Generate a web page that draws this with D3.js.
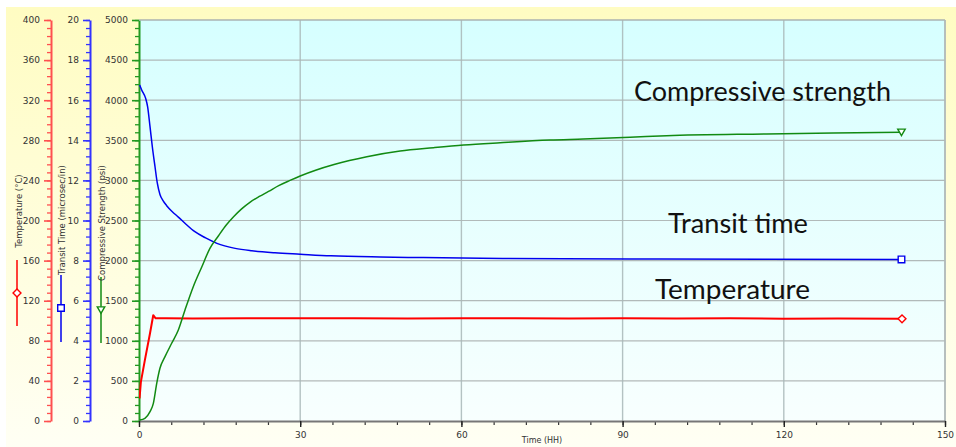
<!DOCTYPE html>
<html>
<head>
<meta charset="utf-8">
<script src="https://cdn.jsdelivr.net/npm/d3@7"></script>
<style>
  html, body { margin: 0; padding: 0; background: #ffffff; }
  svg { display: block; }
</style>
</head>
<body>
<svg id="chart" width="956" height="447"></svg>
<script>
// Cement curing test: temperature, ultrasonic transit time and compressive strength vs time

const temperatureHours = [0.1, 0.35, 1.1, 2.05, 2.65, 3.1, 5, 10, 20, 30, 40, 50, 60, 70, 80, 90, 100, 110, 120, 130, 142];
const temperatureValues = [22.6, 39, 61, 87.5, 105.5, 102.4, 102.6, 102.3, 102.5, 102.4, 102.6, 102.3, 102.5, 102.4, 102.3, 102.5, 102.2, 102.4, 102.1, 102.2, 101.9];

const transitHours = [0.13, 0.5, 1.24, 1.6, 2.05, 2.48, 2.98, 3.41, 3.9, 4.5, 5.15, 6.2, 7.32, 8.8, 10.4, 12.4, 14.5, 17.9, 21, 25.3, 30, 35.7, 44.9, 52.9, 67.7, 91.4, 116, 141.9];
const transitValues = [16.76, 16.51, 16.09, 15.68, 14.68, 13.68, 12.68, 11.86, 11.3, 10.98, 10.74, 10.44, 10.17, 9.8, 9.44, 9.13, 8.86, 8.61, 8.49, 8.39, 8.32, 8.24, 8.18, 8.15, 8.11, 8.08, 8.07, 8.06];

const strengthHours = [0.13, 1.1, 2.05, 2.67, 3.3, 3.9, 4.84, 6.08, 7.32, 8.56, 10.1, 11.7, 13.2, 14.8, 16.2, 17.6, 19.1, 20.7, 22.4, 24.1, 26, 28.1, 30, 33, 36.3, 42.4, 48.6, 54.8, 60.4, 67.2, 76.5, 82.7, 91.4, 98.2, 116.8, 129.2, 141.9];
const strengthValues = [12, 33, 116, 220, 470, 657, 802, 969, 1135, 1384, 1675, 1924, 2153, 2310, 2440, 2547, 2645, 2730, 2800, 2862, 2935, 3000, 3055, 3130, 3198, 3296, 3367, 3408, 3441, 3470, 3504, 3516, 3537, 3557, 3579, 3591, 3600];

const timeTicks = [0, 30, 60, 90, 120, 150];
const temperatureTicks = [0, 40, 80, 120, 160, 200, 240, 280, 320, 360, 400];
const transitTicks = [0, 2, 4, 6, 8, 10, 12, 14, 16, 18, 20];
const strengthTicks = [0, 500, 1000, 1500, 2000, 2500, 3000, 3500, 4000, 4500, 5000];

const seriesNames = ["Compressive strength", "Transit time", "Temperature"];
const axisTitles = ["Temperature (\u00b0C)", "Transit Time (microsec/in)", "Compressive Strength (psi)"];
const timeTitle = "Time (HH)";

const W = 956, H = 447;
const plot = { left: 139, right: 945, top: 20, bottom: 421 };
const smallFont = "DejaVu Sans, Verdana, sans-serif";

const colors = {
  temp: "#ff0000", tempAxis: "#ff5050",
  transit: "#0000ee", transitAxis: "#3333ff",
  strength: "#128a12", strengthAxis: "#229922"
};

const svg = d3.select("#chart");
const defs = svg.append("defs");

const panelGrad = defs.append("linearGradient").attr("id", "panelGrad")
  .attr("x1", 0).attr("y1", 0).attr("x2", 0).attr("y2", 1);
panelGrad.append("stop").attr("offset", "0%").attr("stop-color", "#fffcc2");
panelGrad.append("stop").attr("offset", "100%").attr("stop-color", "#fffff4");

const plotGrad = defs.append("linearGradient").attr("id", "plotGrad")
  .attr("x1", 0).attr("y1", 0).attr("x2", 0).attr("y2", 1);
plotGrad.append("stop").attr("offset", "0%").attr("stop-color", "#d6ffff");
plotGrad.append("stop").attr("offset", "100%").attr("stop-color", "#f8fffe");

// Panel and plot backgrounds
svg.append("rect").attr("x", 6).attr("y", 7).attr("width", W - 6).attr("height", H - 7)
  .attr("fill", "url(#panelGrad)");
svg.append("rect").attr("x", plot.left).attr("y", plot.top)
  .attr("width", plot.right - plot.left).attr("height", plot.bottom - plot.top)
  .attr("fill", "url(#plotGrad)");

// Scales
const x = d3.scaleLinear().domain([0, 150]).range([plot.left, plot.right]);
const yTemp = d3.scaleLinear().domain([0, 400]).range([plot.bottom, plot.top]);
const yTransit = d3.scaleLinear().domain([0, 20]).range([plot.bottom, plot.top]);
const yStrength = d3.scaleLinear().domain([0, 5000]).range([plot.bottom, plot.top]);

// Grid
const grid = svg.append("g").attr("class", "grid");
grid.selectAll("line.h").data(strengthTicks.slice(1)).join("line").attr("class", "h")
  .attr("x1", plot.left).attr("x2", plot.right)
  .attr("y1", d => yStrength(d)).attr("y2", d => yStrength(d))
  .attr("stroke", "#a8aeae").attr("stroke-width", 1.2).attr("opacity", 0.85);
grid.selectAll("line.v").data(timeTicks.slice(1)).join("line").attr("class", "v")
  .attr("y1", plot.top).attr("y2", plot.bottom)
  .attr("x1", d => x(d)).attr("x2", d => x(d))
  .attr("stroke", "#a9b8b8").attr("stroke-width", 1.4).attr("opacity", 0.85);

// Left axes: major + minor ticks drawn by d3.axisLeft
function leftAxis(scale, xPos, color, majors, step) {
  const minors = d3.range(scale.domain()[0], scale.domain()[1] + step / 2, step);
  const gMinor = svg.append("g").attr("transform", `translate(${xPos},0)`)
    .call(d3.axisLeft(scale).tickValues(minors).tickSize(4).tickFormat(""));
  gMinor.select(".domain").remove();
  gMinor.selectAll(".tick line").attr("stroke", color).attr("stroke-width", 1.3);
  const g = svg.append("g").attr("transform", `translate(${xPos},0)`)
    .call(d3.axisLeft(scale).tickValues(majors).tickSize(7).tickPadding(4)
      .tickSizeOuter(0).tickFormat(d3.format("d")));
  g.select(".domain").attr("stroke", color).attr("stroke-width", 2);
  g.selectAll(".tick line").attr("stroke", color).attr("stroke-width", 1.6);
  g.selectAll(".tick text").attr("fill", "#333").attr("font-size", 9)
    .attr("font-family", smallFont);
  return g;
}
leftAxis(yTemp, 51, colors.tempAxis, temperatureTicks, 8);
leftAxis(yTransit, 90, colors.transitAxis, transitTicks, 0.4);
leftAxis(yStrength, plot.left, colors.strengthAxis, strengthTicks, 100);

// Plot frame top/right
svg.append("line").attr("x1", plot.left).attr("x2", plot.right).attr("y1", plot.top).attr("y2", plot.top)
  .attr("stroke", "#a8b0b0").attr("stroke-width", 1.2);
svg.append("line").attr("x1", plot.right).attr("x2", plot.right).attr("y1", plot.top).attr("y2", plot.bottom)
  .attr("stroke", "#b0b8b8").attr("stroke-width", 1.5);

// Bottom axis
const xMinor = svg.append("g").attr("transform", `translate(0,${plot.bottom})`)
  .call(d3.axisBottom(x).tickValues(d3.range(0, 151, 6)).tickSize(4).tickFormat(""));
xMinor.select(".domain").remove();
xMinor.selectAll(".tick line").attr("stroke", "#333").attr("stroke-width", 1.2);
const xAxis = svg.append("g").attr("transform", `translate(0,${plot.bottom})`)
  .call(d3.axisBottom(x).tickValues(timeTicks).tickSize(6).tickPadding(5)
    .tickSizeOuter(0).tickFormat(d3.format("d")));
xAxis.select(".domain").attr("stroke", "#777").attr("stroke-width", 2.2);
xAxis.selectAll(".tick line").attr("stroke", "#222").attr("stroke-width", 1.4);
xAxis.selectAll(".tick text").attr("fill", "#333").attr("font-size", 9)
  .attr("font-family", smallFont);
svg.append("text").attr("x", 542).attr("y", 443).attr("text-anchor", "middle")
  .attr("font-size", 8).attr("font-family", smallFont).attr("fill", "#333")
  .text(timeTitle);

// Series lines
defs.append("clipPath").attr("id", "plotClip").append("rect")
  .attr("x", plot.left).attr("y", plot.top).attr("width", plot.right - plot.left).attr("height", plot.bottom - plot.top);

function drawSeries(hours, values, yScale, color, width, curve) {
  const data = hours.map((h, i) => [h, values[i]]);
  svg.append("path").datum(data)
    .attr("clip-path", "url(#plotClip)")
    .attr("fill", "none").attr("stroke", color).attr("stroke-width", width)
    .attr("stroke-linejoin", "round")
    .attr("d", d3.line().x(d => x(d[0])).y(d => yScale(d[1])).curve(curve));
  return data[data.length - 1];
}
const tempEnd = drawSeries(temperatureHours, temperatureValues, yTemp, colors.temp, 2, d3.curveLinear);
const transitEnd = drawSeries(transitHours, transitValues, yTransit, colors.transit, 1.5, d3.curveMonotoneX);
const strengthEnd = drawSeries(strengthHours, strengthValues, yStrength, colors.strength, 1.5, d3.curveMonotoneX);

// Marker shapes
function marker(kind, cx, cy, color) {
  let sym;
  if (kind === "diamond") sym = d3.symbol(d3.symbolDiamond2, 40);
  else if (kind === "square") sym = d3.symbol(d3.symbolSquare2, 55);
  else sym = d3.symbol(d3.symbolTriangle2, 40);
  const rot = kind === "triangle" ? 180 : 0;
  svg.append("path").attr("d", sym())
    .attr("transform", `translate(${cx},${cy}) rotate(${rot})`)
    .attr("fill", "#fff").attr("stroke", color).attr("stroke-width", 1.4);
}
marker("diamond", x(tempEnd[0]), yTemp(tempEnd[1]), colors.temp);
marker("square", x(transitEnd[0]), yTransit(transitEnd[1]), colors.transit);
marker("triangle", x(strengthEnd[0]), yStrength(strengthEnd[1]) - 1, colors.strength);

// Axis legends: vertical line with marker, plus rotated title
const legendItems = [
  { cx: 17, y1: 260, y2: 326, my: 293, color: colors.temp, kind: "diamond", title: axisTitles[0], tx: 19, ty: 211 },
  { cx: 61, y1: 275, y2: 342, my: 308, color: colors.transit, kind: "square", title: axisTitles[1], tx: 62, ty: 220 },
  { cx: 101, y1: 277, y2: 343, my: 309, color: colors.strength, kind: "triangle", title: axisTitles[2], tx: 102, ty: 223 }
];
legendItems.forEach(it => {
  svg.append("line").attr("x1", it.cx).attr("x2", it.cx).attr("y1", it.y1).attr("y2", it.y2)
    .attr("stroke", it.color).attr("stroke-width", 1.5);
  marker(it.kind, it.cx, it.my, it.color);
  svg.append("text").attr("transform", `translate(${it.tx},${it.ty}) rotate(-90)`)
    .attr("text-anchor", "middle").attr("dominant-baseline", "middle")
    .attr("font-size", 8.5).attr("font-family", smallFont).attr("fill", "#333")
    .text(it.title);
});

// Series annotations
const notes = [
  { text: seriesNames[0], x: 634, y: 101, w: 257 },
  { text: seriesNames[1], x: 668, y: 233, w: 140 },
  { text: seriesNames[2], x: 655, y: 299, w: 155 }
];
svg.selectAll("text.note").data(notes).join("text").attr("class", "note")
  .attr("x", d => d.x).attr("y", d => d.y)
  .attr("textLength", d => d.w).attr("lengthAdjust", "spacingAndGlyphs")
  .attr("font-family", "Lato, 'Open Sans', sans-serif").attr("font-size", 26)
  .attr("fill", "#111").text(d => d.text);
</script>
</body>
</html>
